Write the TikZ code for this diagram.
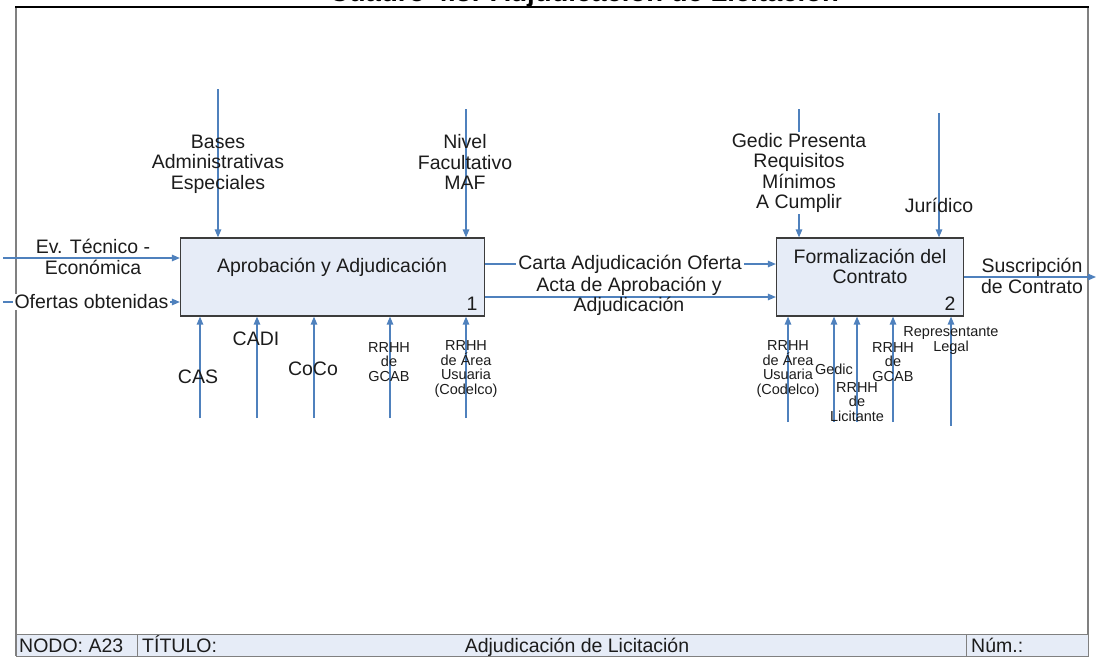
\documentclass[tikz,border=0pt]{standalone}
\usepackage{fontspec}
\setmainfont{Liberation Sans}
\usetikzlibrary{arrows.meta}
\definecolor{flowblue}{RGB}{79,129,189}
\definecolor{boxfill}{RGB}{230,236,247}
\definecolor{boxline}{RGB}{60,60,60}
\definecolor{framegray}{RGB}{128,128,128}
\definecolor{txt}{RGB}{28,28,28}
\newcommand\bigtxt{\fontsize{19.5}{20.6}\selectfont}
\newcommand\smalltxt{\fontsize{14.5}{14.8}\selectfont}
\tikzset{
  flow/.style={draw=flowblue, line width=1.25pt, -{Triangle[length=8pt,width=6.5pt]}},
  lbl/.style={font=\bigtxt, text=txt, align=center, inner sep=0pt},
  wlbl/.style={lbl, fill=white, inner xsep=2pt, inner ysep=1pt},
  slbl/.style={font=\smalltxt, text=txt, align=center, inner sep=0pt},
  procbox/.style={draw=boxline, fill=boxfill, line width=1.2pt, inner sep=0pt},
  cell/.style={draw=framegray, fill=boxfill, line width=1pt, inner sep=0pt, minimum height=22pt},
}
\begin{document}
\begin{tikzpicture}[x=1pt,y=-1pt]
\useasboundingbox (0,0) rectangle (1097,656);
\clip (0,0) rectangle (1097,656);

% heading, only its lowest edge falls inside the sheet
\node[font=\bfseries\fontsize{27.5}{29}\selectfont, text=black, anchor=base, inner sep=0pt] (title) at (584,1) {Cuadro 4.3: Adjudicación de Licitación};

% sheet frame
\draw[framegray, line width=2pt] (16,7) -- (16,656);
\draw[framegray, line width=2pt] (1088,7) -- (1088,656);
\draw[black, line width=1.6pt] (15,7) -- (1089,7);

% footer cells
\node[cell, minimum width=121pt] (fnodo) at (76.5,645) {};
\node[cell, minimum width=829pt] (ftitulo) at (551.5,645) {};
\node[cell, minimum width=122pt] (fnum) at (1027,645) {};
\node[lbl, anchor=base west] (nodotxt) at (19,652) {NODO: A23};
\node[lbl, anchor=base west] (titulotxt) at (142,652) {TÍTULO:};
\node[lbl, anchor=base] (nombretxt) at (577,652) {Adjudicación de Licitación};
\node[lbl, anchor=base west] (numtxt) at (971,652) {Núm.:};

% activity boxes
\node[procbox, minimum width=304pt, minimum height=78pt] (p1) at (332.5,277) {};
\node[lbl] (p1t) at (332,267) {Aprobación y Adjudicación};
\node[lbl] (p1n) at (472,304) {1};
\node[procbox, minimum width=187pt, minimum height=78pt] (p2) at (870,277) {};
\node[lbl] (p2t) at (870,266.5) {Formalización del\\Contrato};
\node[lbl] (p2n) at (950,304) {2};

% inputs of box 1
\coordinate (ev0) at (3,258);
\coordinate (of0) at (3,302);
\draw[flow] (ev0) -- (ev0 -| p1.west);
\draw[flow] (of0) -- (of0 -| p1.west);
\node[lbl] (ev) at (93,257) {Ev. Técnico -\\Económica};
\node[wlbl] (of) at (91.5,302) {Ofertas obtenidas};

% controls of box 1
\coordinate (bases0) at (218,89);
\coordinate (nivel0) at (466,109);
\draw[flow] (bases0) -- (bases0 |- p1.north);
\draw[flow] (nivel0) -- (nivel0 |- p1.north);
\node[lbl] (bases) at (218,164) {Bases\\Administrativas\\Especiales};
\node[lbl] (nivel) at (465,162) {Nivel\\Facultativo\\MAF};

% mechanisms of box 1
\coordinate (cas0) at (200,418);
\coordinate (cadi0) at (257,418);
\coordinate (coco0) at (314,418);
\coordinate (gcab0) at (390,418);
\coordinate (area0) at (466,418);
\foreach \m in {cas0,cadi0,coco0,gcab0,area0}
  \draw[flow] (\m) -- (\m |- p1.south);
\node[lbl] (cas) at (198,377) {CAS};
\node[lbl] (cadi) at (256,339) {CADI};
\node[lbl] (coco) at (313,369) {CoCo};
\node[slbl] (gcab) at (389,362) {RRHH\\de\\GCAB};
\node[slbl] (area) at (466,369) {RRHH\\de Área\\Usuaria\\(Codelco)};

% outputs of box 1 into box 2
\coordinate (yCarta) at (630,264);
\coordinate (yActa) at (630,297);
\draw[flow] (p1.east |- yCarta) -- (p2.west |- yCarta);
\draw[flow] (p1.east |- yActa) -- (p2.west |- yActa);
\node[wlbl] (carta) at (yCarta) {Carta Adjudicación Oferta};
\node[lbl] (acta) at (629,296.5) {Acta de Aprobación y\\Adjudicación};

% controls of box 2
\coordinate (gedic0) at (799,109);
\coordinate (jur0) at (939,113);
\draw[flow] (gedic0) -- (gedic0 |- p2.north);
\draw[flow] (jur0) -- (jur0 |- p2.north);
\node[wlbl] (gedicreq) at (799,173) {Gedic Presenta\\Requisitos\\Mínimos\\A Cumplir};
\node[lbl] (jur) at (939,205) {Jurídico};

% mechanisms of box 2
\coordinate (area20) at (788,422);
\coordinate (gedic20) at (834,422);
\coordinate (lic0) at (857,422);
\coordinate (gcab20) at (893,422);
\coordinate (rep0) at (951,426);
\foreach \m in {area20,gedic20,lic0,gcab20,rep0}
  \draw[flow] (\m) -- (\m |- p2.south);
\node[slbl] (area2) at (788,369) {RRHH\\de Área\\Usuaria\\(Codelco)};
\node[slbl] (gedic2) at (834,369) {Gedic};
\node[slbl] (lic) at (857,402) {RRHH\\de\\Licitante};
\node[slbl] (gcab2) at (893,362) {RRHH\\de\\GCAB};
\node[slbl] (rep) at (951,340.5) {Representante\\Legal};

% output of box 2
\coordinate (susc1) at (1096,277);
\draw[flow] (p2.east |- susc1) -- (susc1);
\node[lbl] (susc) at (1032,276) {Suscripción\\de Contrato};
\end{tikzpicture}
\end{document}
